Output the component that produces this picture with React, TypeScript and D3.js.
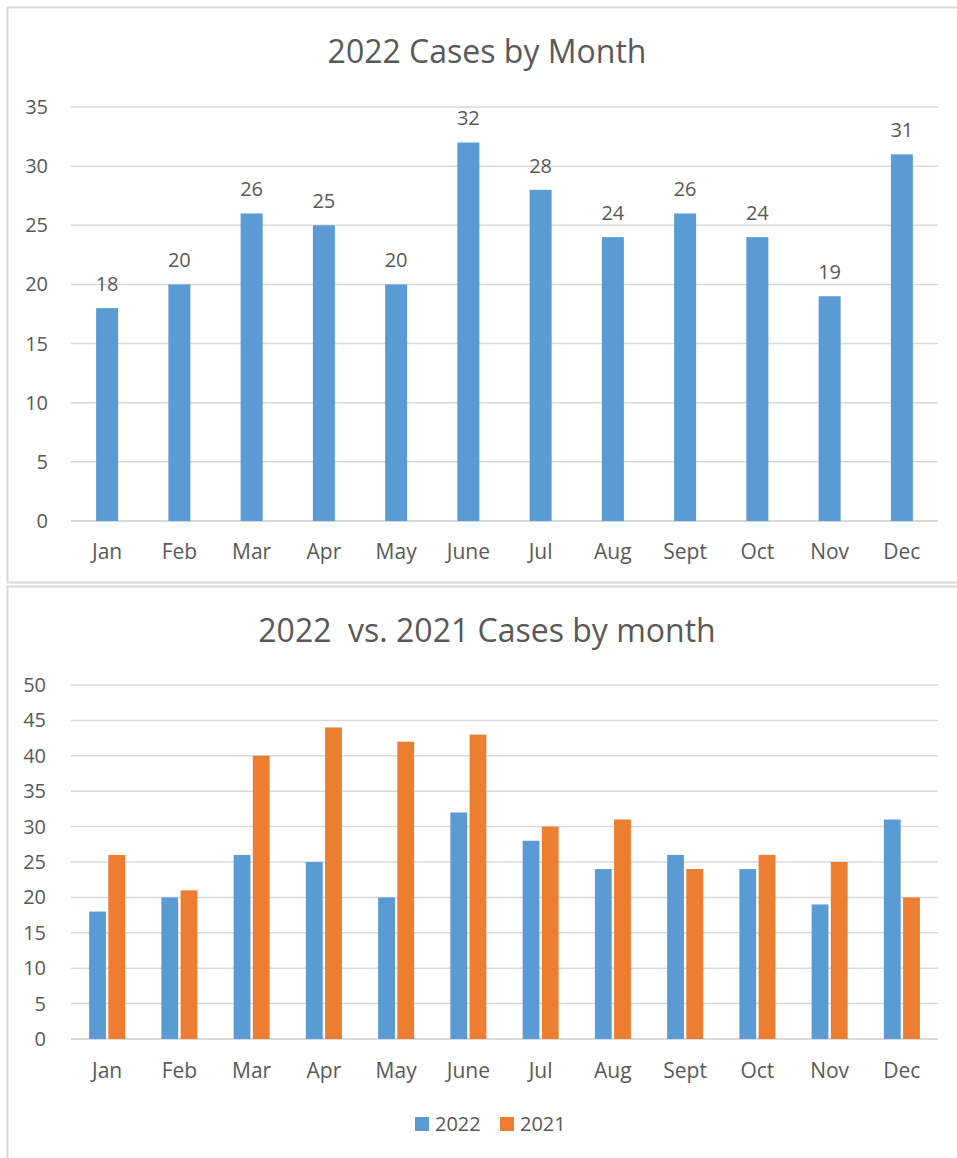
import React, { useRef, useEffect } from 'react';
import * as d3 from 'd3';

const months = ['Jan', 'Feb', 'Mar', 'Apr', 'May', 'June', 'Jul', 'Aug', 'Sept', 'Oct', 'Nov', 'Dec'];
const cases2022 = [18, 20, 26, 25, 20, 32, 28, 24, 26, 24, 19, 31];
const cases2021 = [26, 21, 40, 44, 42, 43, 30, 31, 24, 26, 25, 20];
const ticksTop = [0, 5, 10, 15, 20, 25, 30, 35];
const ticksBottom = [0, 5, 10, 15, 20, 25, 30, 35, 40, 45, 50];

const BLUE = '#5B9BD5';
const ORANGE = '#ED7D31';
const GRID = '#D9D9D9';
const TEXT = '#595959';
const FONT = '"Open Sans", "Noto Sans", sans-serif';

const App = () => {
  const ref = useRef<SVGSVGElement | null>(null);

  useEffect(() => {
    document.body.style.margin = '0';
    const svg = d3.select(ref.current);
    svg.selectAll('*').remove();

    // chart frames
    svg.append('rect')
      .attr('x', 7.5).attr('y', 7.5).attr('width', 960).attr('height', 575)
      .attr('fill', 'none').attr('stroke', GRID).attr('stroke-width', 2);
    svg.append('rect')
      .attr('x', 7.5).attr('y', 586.5).attr('width', 960).attr('height', 600)
      .attr('fill', 'none').attr('stroke', GRID).attr('stroke-width', 2);

    const x = d3.scaleBand().domain(months).range([71, 938]);

    // ---- top chart ----
    const yTop = d3.scaleLinear().domain([0, 35]).range([521, 107]);
    const top = svg.append('g');

    top.append('text')
      .attr('x', 487).attr('y', 63)
      .attr('text-anchor', 'middle')
      .attr('font-size', 32).attr('fill', TEXT)
      .text('2022 Cases by Month');

    top.selectAll('.grid')
      .data(ticksTop)
      .enter().append('line')
      .attr('x1', 71).attr('x2', 938)
      .attr('y1', d => yTop(d)).attr('y2', d => yTop(d))
      .attr('stroke', GRID).attr('stroke-width', d => d === 0 ? 2 : 1.5);

    top.selectAll('.ylab')
      .data(ticksTop)
      .enter().append('text')
      .attr('x', 48).attr('y', d => yTop(d) + 7)
      .attr('text-anchor', 'end')
      .attr('font-size', 20).attr('fill', TEXT)
      .text(d => d);

    const bw = 22;
    top.selectAll('.bar')
      .data(cases2022)
      .enter().append('rect')
      .attr('x', (d, i) => x(months[i])! + x.bandwidth() / 2 - bw / 2)
      .attr('y', d => yTop(d))
      .attr('width', bw)
      .attr('height', d => yTop(0) - yTop(d))
      .attr('fill', BLUE);

    top.selectAll('.val')
      .data(cases2022)
      .enter().append('text')
      .attr('x', (d, i) => x(months[i])! + x.bandwidth() / 2)
      .attr('y', d => yTop(d) - 17)
      .attr('text-anchor', 'middle')
      .attr('font-size', 20).attr('fill', TEXT)
      .text(d => d);

    top.selectAll('.xlab')
      .data(months)
      .enter().append('text')
      .attr('x', d => x(d)! + x.bandwidth() / 2)
      .attr('y', 559)
      .attr('text-anchor', 'middle')
      .attr('font-size', 21).attr('fill', TEXT)
      .text(d => d);

    // ---- bottom chart ----
    const yBot = d3.scaleLinear().domain([0, 50]).range([1039, 685]);
    const bot = svg.append('g');

    bot.append('text')
      .attr('x', 487).attr('y', 642)
      .attr('text-anchor', 'middle')
      .attr('font-size', 32).attr('fill', TEXT)
      .style('white-space', 'pre')
      .text('2022  vs. 2021 Cases by month');

    bot.selectAll('.grid')
      .data(ticksBottom)
      .enter().append('line')
      .attr('x1', 71).attr('x2', 938)
      .attr('y1', d => yBot(d)).attr('y2', d => yBot(d))
      .attr('stroke', GRID).attr('stroke-width', d => d === 0 ? 2 : 1.5);

    bot.selectAll('.ylab')
      .data(ticksBottom)
      .enter().append('text')
      .attr('x', 46).attr('y', d => yBot(d) + 7)
      .attr('text-anchor', 'end')
      .attr('font-size', 20).attr('fill', TEXT)
      .text(d => d);

    const sub = d3.scaleBand().domain(['2022', '2021']).range([-18, 18]).paddingInner(0.125);
    const series = [
      { name: '2022', values: cases2022, color: BLUE },
      { name: '2021', values: cases2021, color: ORANGE },
    ];

    series.forEach(s => {
      bot.selectAll('.bar' + s.name)
        .data(s.values)
        .enter().append('rect')
        .attr('x', (d, i) => x(months[i])! + x.bandwidth() / 2 + sub(s.name)!)
        .attr('y', d => yBot(d))
        .attr('width', sub.bandwidth())
        .attr('height', d => yBot(0) - yBot(d))
        .attr('fill', s.color);
    });

    bot.selectAll('.xlab')
      .data(months)
      .enter().append('text')
      .attr('x', d => x(d)! + x.bandwidth() / 2)
      .attr('y', 1078)
      .attr('text-anchor', 'middle')
      .attr('font-size', 21).attr('fill', TEXT)
      .text(d => d);

    // legend
    const legend = bot.append('g');
    const lx = [415, 500];
    series.forEach((s, i) => {
      legend.append('rect')
        .attr('x', lx[i]).attr('y', 1117)
        .attr('width', 14).attr('height', 14)
        .attr('fill', s.color);
      legend.append('text')
        .attr('x', lx[i] + 20).attr('y', 1131)
        .attr('font-size', 20).attr('fill', TEXT)
        .text(s.name);
    });
  }, []);

  return (
    <svg ref={ref} width={957} height={1158} style={{ display: 'block', fontFamily: FONT, background: '#fff' }} />
  );
};

export default App;
